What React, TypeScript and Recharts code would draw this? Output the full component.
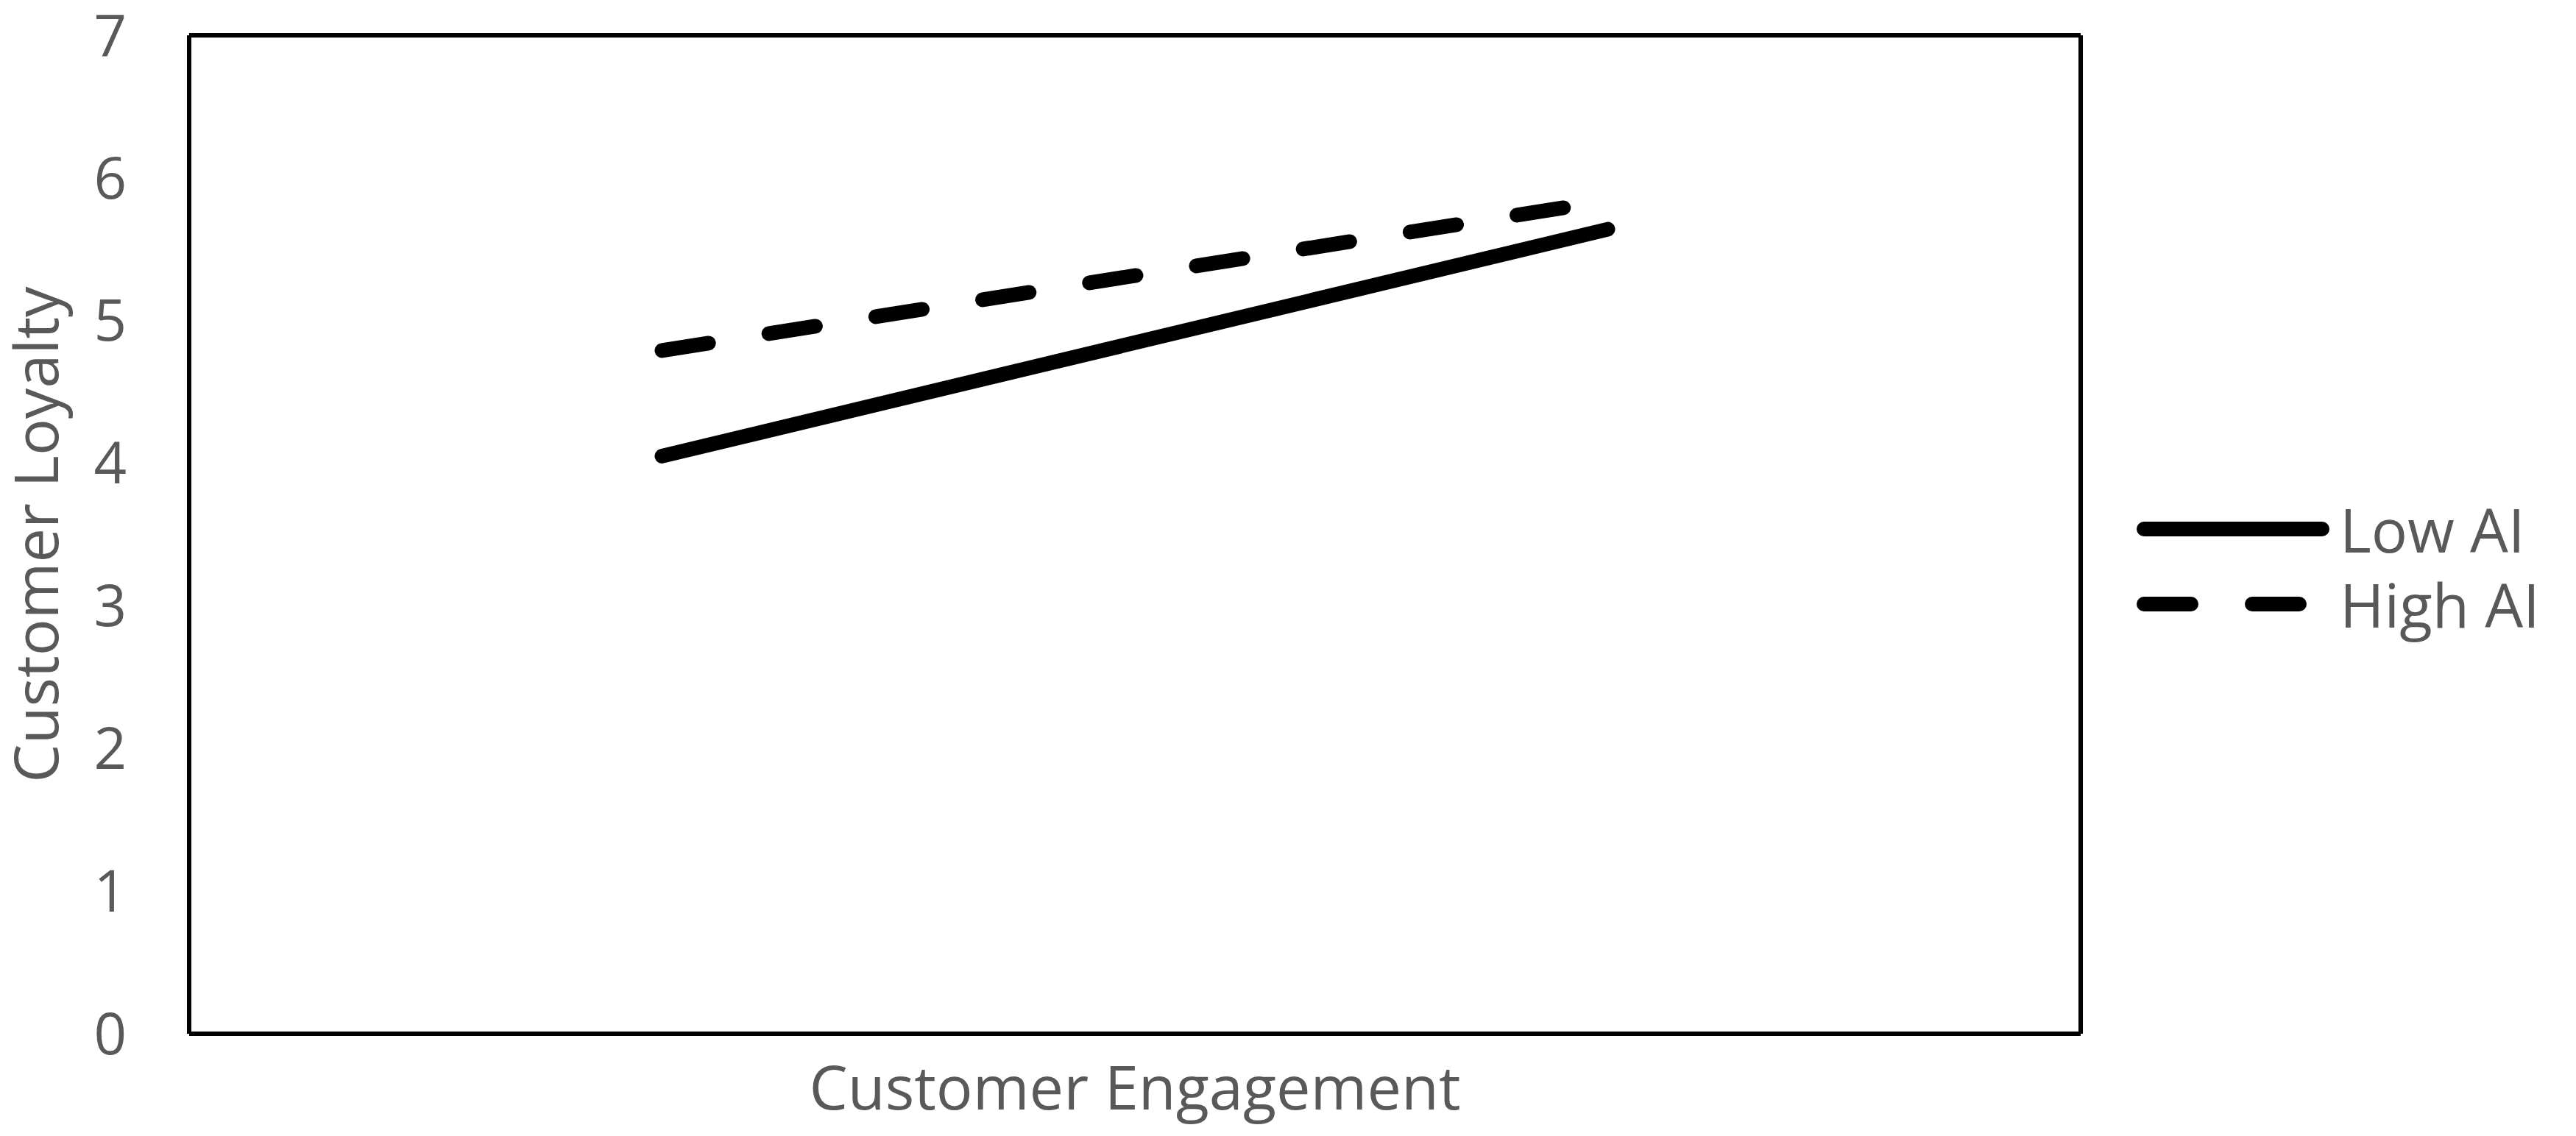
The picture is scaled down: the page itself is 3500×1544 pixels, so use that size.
import React from 'react';
import { LineChart, Line, XAxis, YAxis, Legend } from 'recharts';

const categories = ['Low CE', 'High CE'];
const lowAI = [4.05, 5.64];
const highAI = [4.79, 5.84];
const yTicks = [0, 1, 2, 3, 4, 5, 6, 7];
const seriesNames = ['Low AI', 'High AI'];
const xTitle = 'Customer Engagement';
const yTitle = 'Customer Loyalty';

const data = categories.map((c, i) => ({ cat: c, low: lowAI[i], high: highAI[i] }));

const FONT = '"Open Sans", "Noto Sans", sans-serif';
const GREY = '#595959';
const DASH = '64 83';
const BORDER = { stroke: '#000', strokeWidth: 6 };

function LegendContent(props: any) {
  const payload = [...(props.payload || [])].sort(
    (a: any, b: any) => seriesNames.indexOf(a.value) - seriesNames.indexOf(b.value)
  );
  return (
    <div style={{ width: 600 }}>
      {payload.map((p: any, i: number) => (
        <div key={i} style={{ display: 'flex', alignItems: 'center', height: 102 }}>
          <svg width={262} height={40} style={{ display: 'block', flexShrink: 0 }}>
            <line
              x1={10}
              y1={20}
              x2={252}
              y2={20}
              stroke="#000"
              strokeWidth={20}
              strokeLinecap="round"
              strokeDasharray={p.payload && p.payload.strokeDasharray}
            />
          </svg>
          <span style={{ fontFamily: FONT, fontSize: 82, color: GREY, marginLeft: 14, lineHeight: '96px', whiteSpace: 'nowrap' }}>
            {p.value}
          </span>
        </div>
      ))}
    </div>
  );
}

export default function App() {
  return (
    <div style={{ position: 'absolute', left: 0, top: 0, width: 3500, height: 1544, background: '#fff' }}>
      <LineChart
        width={3500}
        height={1544}
        data={data}
        margin={{ top: 47, right: 72, bottom: 0, left: 0 }}
      >
        <XAxis
          dataKey="cat"
          scale="band"
          height={139}
          tick={false}
          tickLine={false}
          axisLine={BORDER}
          label={{
            value: xTitle,
            position: 'insideBottom',
            offset: 36,
            style: { fontFamily: FONT, fontSize: 83, fill: GREY },
          }}
        />
        <XAxis
          xAxisId="top"
          dataKey="cat"
          orientation="top"
          scale="band"
          height={1}
          tick={false}
          tickLine={false}
          axisLine={BORDER}
        />
        <YAxis
          width={257}
          domain={[0, 7]}
          ticks={yTicks}
          tickLine={false}
          tickSize={0}
          tickMargin={85}
          axisLine={BORDER}
          tick={{ fontFamily: FONT, fontSize: 78, fill: GREY }}
          label={{
            value: yTitle,
            angle: -90,
            position: 'insideLeft',
            offset: 50,
            style: { fontFamily: FONT, fontSize: 83, fill: GREY, textAnchor: 'middle' },
          }}
        />
        <YAxis
          yAxisId="right"
          orientation="right"
          width={1}
          domain={[0, 7]}
          tick={false}
          tickLine={false}
          axisLine={BORDER}
        />
        <Legend
          layout="vertical"
          align="right"
          verticalAlign="middle"
          content={<LegendContent />}
          wrapperStyle={{ left: 2903, top: 668, width: 600, right: 'auto' }}
        />
        <Line
          name={seriesNames[0]}
          dataKey="low"
          stroke="#000"
          strokeWidth={20}
          strokeLinecap="round"
          dot={false}
          activeDot={false}
          isAnimationActive={false}
        />
        <Line
          name={seriesNames[1]}
          dataKey="high"
          stroke="#000"
          strokeWidth={20}
          strokeLinecap="round"
          strokeDasharray={DASH}
          dot={false}
          activeDot={false}
          isAnimationActive={false}
        />
      </LineChart>
    </div>
  );
}
